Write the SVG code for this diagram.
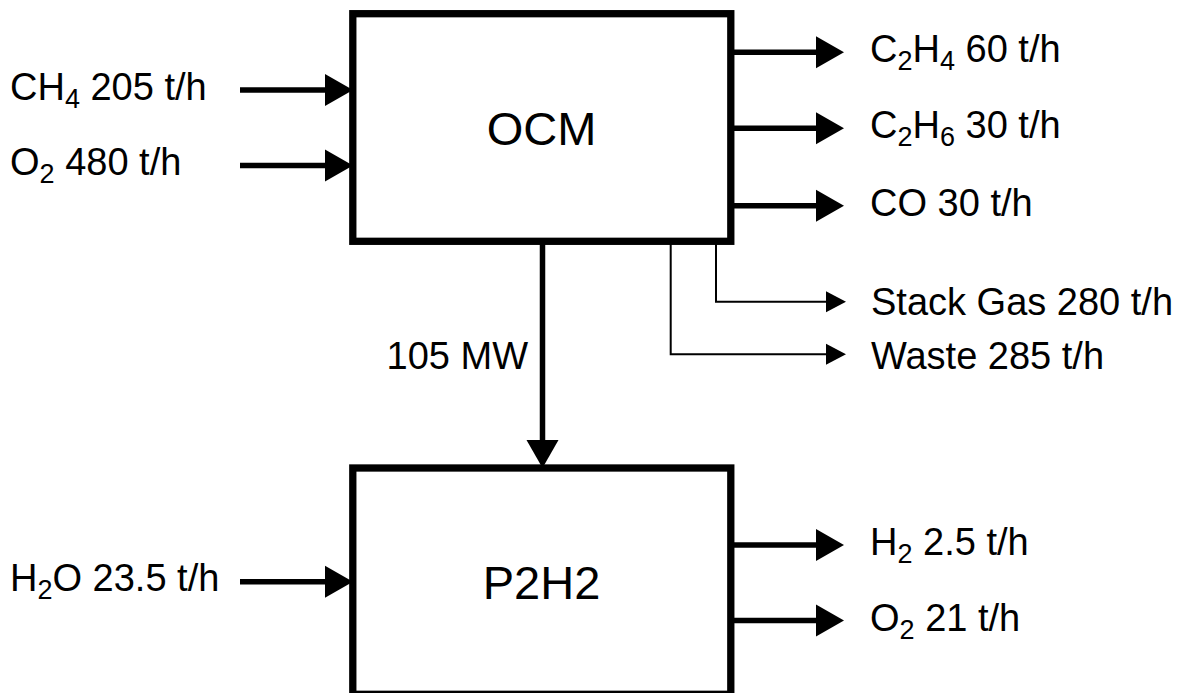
<svg xmlns="http://www.w3.org/2000/svg" width="1179" height="693" viewBox="0 0 1179 693">
<style>
.box{fill:#fff;stroke:#000;stroke-width:7.3}
.t{font-family:"Liberation Sans",Arial,sans-serif;font-size:38px;fill:#000}
.title{font-family:"Liberation Sans",Arial,sans-serif;font-size:47px;fill:#000;text-anchor:middle}
.sub{font-size:27px}
.thick{fill:none;stroke:#000;stroke-width:5.5}
.thin{fill:none;stroke:#000;stroke-width:2}
</style>
<defs>
<marker id="ah" markerUnits="userSpaceOnUse" markerWidth="28" markerHeight="32" refX="0" refY="16" orient="auto" overflow="visible">
<path d="M0,0 L28,16 L0,32 Z" fill="#000"/>
</marker>
<marker id="ahs" markerUnits="userSpaceOnUse" markerWidth="20" markerHeight="21" refX="0" refY="10.5" orient="auto" overflow="visible">
<path d="M0,0 L20,10.5 L0,21 Z" fill="#000"/>
</marker>
</defs>
<g id="node-ocm">
<rect class="box" x="352.8" y="13.7" width="378" height="227.6"/>
<text class="title" x="541.5" y="145">OCM</text>
</g>
<g id="node-p2h2">
<rect class="box" x="352.8" y="468" width="378" height="226.3"/>
<text class="title" x="541.5" y="599">P2H2</text>
</g>
<g id="connectors">
<path class="thick" d="M240,90 H325" marker-end="url(#ah)"/>
<path class="thick" d="M240,165.5 H325" marker-end="url(#ah)"/>
<path class="thick" d="M240,581.7 H325" marker-end="url(#ah)"/>
<path class="thick" d="M731,52.3 H816" marker-end="url(#ah)"/>
<path class="thick" d="M731,128.2 H816" marker-end="url(#ah)"/>
<path class="thick" d="M731,205.8 H816" marker-end="url(#ah)"/>
<path class="thick" d="M731,545 H816" marker-end="url(#ah)"/>
<path class="thick" d="M731,620.5 H816" marker-end="url(#ah)"/>
<path class="thick" d="M542.5,241 V440" marker-end="url(#ah)"/>
<path class="thin" d="M716,241 V301.7 H826" marker-end="url(#ahs)"/>
<path class="thin" d="M670.7,241 V354.3 H826" marker-end="url(#ahs)"/>
</g>
<g id="labels">
<text class="t" x="10" y="100">CH<tspan class="sub" dy="8">4</tspan><tspan dy="-8"> 205 t/h</tspan></text>
<text class="t" x="10" y="175">O<tspan class="sub" dy="8">2</tspan><tspan dy="-8"> 480 t/h</tspan></text>
<text class="t" x="10" y="591">H<tspan class="sub" dy="8">2</tspan><tspan dy="-8">O 23.5 t/h</tspan></text>
<text class="t" x="870" y="62">C<tspan class="sub" dy="8">2</tspan><tspan dy="-8">H</tspan><tspan class="sub" dy="8">4</tspan><tspan dy="-8"> 60 t/h</tspan></text>
<text class="t" x="870" y="138">C<tspan class="sub" dy="8">2</tspan><tspan dy="-8">H</tspan><tspan class="sub" dy="8">6</tspan><tspan dy="-8"> 30 t/h</tspan></text>
<text class="t" x="870" y="216">CO 30 t/h</text>
<text class="t" x="871" y="315">Stack Gas 280 t/h</text>
<text class="t" x="871" y="369">Waste 285 t/h</text>
<text class="t" x="528" y="369" text-anchor="end">105 MW</text>
<text class="t" x="870" y="555">H<tspan class="sub" dy="8">2</tspan><tspan dy="-8"> 2.5 t/h</tspan></text>
<text class="t" x="870" y="630.5">O<tspan class="sub" dy="8">2</tspan><tspan dy="-8"> 21 t/h</tspan></text>
</g>
</svg>
